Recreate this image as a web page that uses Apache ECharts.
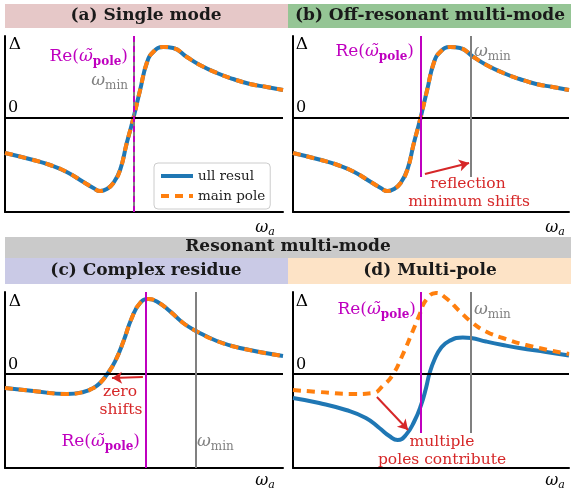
<!DOCTYPE html>
<html><head><meta charset="utf-8">
<script src="https://cdn.jsdelivr.net/npm/echarts@6/dist/echarts.min.js"></script>
<style>html,body{margin:0;padding:0;background:#fff}#c{width:576px;height:495px}</style>
</head><body><div id="c"></div>
<script>
// ---- data (x: position along omega_a, 0..100; y: Delta in arbitrary units, 0 = zero line) ----
const xAB = [0, 10.2, 16.2, 22.2, 28.2, 31.8, 34.2, 36.6, 39.0, 41.4, 43.8, 46.2, 48.6, 51.0, 53.3, 56.9, 60.5, 65.4, 70.1, 76.2, 82.1, 88.1, 94.1, 100];
const yAB = [-35, -42, -47, -54, -64, -70, -73, -71, -65, -52, -25, 0, 28, 55, 66, 71, 70, 61, 53, 45, 39, 34, 31, 28];
const xC = [0, 10.2, 22.2, 28.2, 31.8, 34.2, 36.8, 39.6, 42.6, 45.6, 48.6, 51.6, 54.6, 59.4, 64.1, 69.0, 76.2, 84.5, 100];
const yC = [-14, -17, -20, -18, -14, -9, 0, 12.6, 32.6, 56, 71, 75, 72.6, 62.6, 51, 42.6, 33, 26, 18];
const xDfull = [0, 9.5, 19.2, 26.4, 31.3, 34.9, 37.9, 40.9, 44.0, 46.4, 48.2, 49.4, 51.2, 53.6, 56.6, 61.5, 64.5, 69.9, 76.0, 82.0, 91.7, 100];
const yDfull = [-24, -29, -36, -44, -54, -62, -66, -61, -47, -31, -14, 0, 14, 26, 33, 36.5, 36, 32.5, 29, 26, 22, 18.5];
const xDpole = [0, 9.5, 21.6, 28.9, 32.5, 36.1, 39.7, 43.4, 45.8, 48.2, 51.8, 55.4, 60.3, 65.1, 69.9, 76.0, 84.4, 100];
const yDpole = [-16, -18, -20, -19, -12, -1, 19, 43, 59, 74, 81, 76, 63, 51, 42.5, 36, 29, 20];
// vertical marker positions (Re(pole), omega_min)
const poleX = [46.2, 46.4, 50.6, 46.4];
const wminX = [46.2, 64.5, 68.7, 64.5];
const legendNames = ['ull resul', 'main pole'];
const headers = ['(a) Single mode', '(b) Off-resonant multi-mode', 'Resonant multi-mode', '(c) Complex residue', '(d) Multi-pole'];

const BLUE = '#1f77b4', ORANGE = '#ff7f0e', MAG = '#bf00bf', GRAY = '#808080', RED = '#d62728';
const YMIN = -94, YMAX = 82;
const grids = [
  {left: 5, top: 36, width: 278, height: 176},
  {left: 293, top: 36, width: 276, height: 176},
  {left: 5, top: 292, width: 278, height: 176},
  {left: 293, top: 292, width: 276, height: 176}
];
const zip = (xs, ys) => xs.map((x, i) => [x, ys[i]]);
const panelFull = [zip(xAB, yAB), zip(xAB, yAB), zip(xC, yC), zip(xDfull, yDfull)];
const panelPole = [zip(xAB, yAB), zip(xAB, yAB), zip(xC, yC), zip(xDpole, yDpole)];
const vTop = [YMAX, YMAX, YMAX, YMAX];
const vBot = [YMIN, -59, YMIN, -59];

const xAxes = grids.map((g, i) => ({
  type: 'value', gridIndex: i, min: 0, max: 100,
  axisLine: {onZero: false, lineStyle: {color: '#000', width: 2}},
  axisTick: {show: false}, axisLabel: {show: false}, splitLine: {show: false}
}));
const yAxes = grids.map((g, i) => ({
  type: 'value', gridIndex: i, min: YMIN, max: YMAX,
  axisLine: {show: true, lineStyle: {color: '#000', width: 2}},
  axisTick: {show: false}, axisLabel: {show: false}, splitLine: {show: false}
}));

const series = [];
grids.forEach((g, i) => {
  const vlines = [
    [{coord: [wminX[i], vBot[i]], lineStyle: {color: GRAY, width: 2, type: 'solid'}}, {coord: [wminX[i], vTop[i]]}],
    [{coord: [poleX[i], vBot[i]], lineStyle: {color: MAG, width: 2, type: i === 0 ? [6, 4] : 'solid'}}, {coord: [poleX[i], vTop[i]]}]
  ];
  series.push({
    type: 'line', xAxisIndex: i, yAxisIndex: i, data: [], silent: true, z: 1,
    markLine: {silent: true, symbol: 'none', animation: false, label: {show: false},
      lineStyle: {color: '#000', width: 2, type: 'solid'},
      data: [{yAxis: 0}].concat(vlines)}
  });
  series.push({
    name: legendNames[0], type: 'line', xAxisIndex: i, yAxisIndex: i, data: panelFull[i],
    smooth: 0.5, symbol: 'none', lineStyle: {color: BLUE, width: 4}, itemStyle: {color: BLUE}, z: 3, animation: false
  });
  series.push({
    name: legendNames[1], type: 'line', xAxisIndex: i, yAxisIndex: i, data: panelPole[i],
    smooth: 0.5, symbol: 'none', lineStyle: {color: ORANGE, width: 4, type: [8, 6]}, itemStyle: {color: ORANGE}, z: 4, animation: false
  });
});
// arrows (data coordinates)
const arrows = [
  {i: 1, from: [47.8, -56], to: [63.8, -45], curv: -0.25},
  {i: 2, from: [49.6, -3], to: [38.5, -4], curv: -0.5},
  {i: 3, from: [30.4, -23], to: [41.7, -56], curv: -0.3}
];
arrows.forEach(a => {
  series.push({
    type: 'line', xAxisIndex: a.i, yAxisIndex: a.i, data: [], z: 5, silent: true,
    markLine: {silent: true, animation: false, symbol: ['none', 'arrow'], symbolSize: [9, 10], label: {show: false},
      lineStyle: {color: RED, width: 2, type: 'solid', curveness: a.curv},
      data: [[{coord: a.from}, {coord: a.to}]]}
  });
});

const SERIF = '"DejaVu Serif", serif';
const txt = (x, y, text, fill, size) => ({
  type: 'text', x: x, y: y, z: 20, silent: true,
  style: {text: text, fill: fill, font: size + 'px ' + SERIF, align: 'center', verticalAlign: 'middle'}
});
const poleLabel = (x, y) => ({
  type: 'text', x: x, y: y, z: 20, silent: true,
  style: {text: '{r|Re(}{w|ω\u0303}{s|pole}{r|)}', align: 'right', verticalAlign: 'middle',
    rich: {
      r: {fill: MAG, fontFamily: SERIF, fontSize: 17},
      w: {fill: MAG, fontFamily: SERIF, fontSize: 17, fontStyle: 'italic'},
      s: {fill: MAG, fontFamily: SERIF, fontSize: 12, fontWeight: 'bold', padding: [10, 0, 0, 0]}
    }}
});
const wminLabel = (x, y, align) => ({
  type: 'text', x: x, y: y, z: 20, silent: true,
  style: {text: '{w|ω}{s|min}', align: align, verticalAlign: 'middle',
    rich: {
      w: {fill: GRAY, fontFamily: SERIF, fontSize: 17, fontStyle: 'italic'},
      s: {fill: GRAY, fontFamily: SERIF, fontSize: 12, padding: [9, 0, 0, 0]}
    }}
});
const waLabel = (x, y) => ({
  type: 'text', x: x, y: y, z: 20, silent: true,
  style: {text: '{w|ω}{s|a}', align: 'center', verticalAlign: 'middle',
    rich: {
      w: {fill: '#000', fontFamily: SERIF, fontSize: 16, fontStyle: 'italic'},
      s: {fill: '#000', fontFamily: SERIF, fontSize: 11, fontStyle: 'italic', padding: [8, 0, 0, 0]}
    }}
});
const rect = (x, y, w, h, c) => ({type: 'rect', z: 0, silent: true, shape: {x: x, y: y, width: w, height: h}, style: {fill: c}});
const hfont = 'bold 17px ' + SERIF;
const htxt = (x, y, t) => ({type: 'text', x: x, y: y, z: 20, silent: true,
  style: {text: t, fill: '#1a1a1a', font: hfont, align: 'center', verticalAlign: 'middle'}});

const graphic = [
  rect(5, 4, 283, 24, '#e6c8c8'), rect(288, 4, 283, 24, '#95c595'),
  rect(5, 237, 566, 21, '#cacaca'), rect(5, 258, 283, 26, '#cacae6'), rect(288, 258, 283, 26, '#fde3c6'),
  htxt(146, 16, headers[0]), htxt(430, 16, headers[1]), htxt(288, 247, headers[2]),
  htxt(146, 271, headers[3]), htxt(430, 271, headers[4]),
  // panel a
  txt(15, 45, 'Δ', '#000', 17), txt(13, 108, '0', '#000', 16),
  poleLabel(128, 57), wminLabel(128, 81, 'right'), waLabel(265, 228),
  // panel b
  txt(302, 45, 'Δ', '#000', 17), txt(301, 108, '0', '#000', 16),
  poleLabel(414, 52), wminLabel(474, 52, 'left'), waLabel(555, 228),
  txt(468, 184, 'reflection', RED, 15.5), txt(469, 202, 'minimum shifts', RED, 15.5),
  // panel c
  txt(15, 302, 'Δ', '#000', 17), txt(13, 365, '0', '#000', 16),
  poleLabel(140, 442), wminLabel(197, 442, 'left'), waLabel(265, 481),
  txt(120, 392, 'zero', RED, 15.5), txt(121, 410, 'shifts', RED, 15.5),
  // panel d
  txt(302, 302, 'Δ', '#000', 17), txt(301, 365, '0', '#000', 16),
  poleLabel(416, 310), wminLabel(474, 310, 'left'), waLabel(555, 481),
  txt(442, 442, 'multiple', RED, 15.5), txt(442, 460, 'poles contribute', RED, 15.5)
];

const chart = echarts.init(document.getElementById('c'), null, {renderer: 'canvas'});
chart.setOption({
  animation: false,
  backgroundColor: '#fff',
  grid: grids,
  xAxis: xAxes, yAxis: yAxes,
  legend: {
    data: legendNames, orient: 'vertical', left: 154, top: 163, itemWidth: 32, itemHeight: 10, itemGap: 6,
    padding: [6, 5, 6, 5], borderColor: '#cccccc', borderWidth: 1, borderRadius: 4, backgroundColor: '#fff',
    itemStyle: {opacity: 0}, lineStyle: {width: 4},
    textStyle: {fontFamily: SERIF, fontSize: 13.5, color: '#222'}, selectedMode: false, z: 10
  },
  series: series,
  graphic: graphic
});
</script></body></html>
